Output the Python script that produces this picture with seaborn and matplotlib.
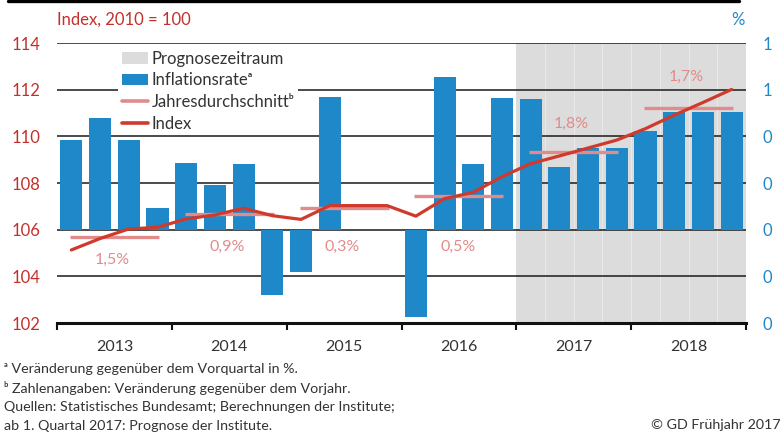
import numpy as np
import pandas as pd
import matplotlib
matplotlib.use("Agg")
import matplotlib.pyplot as plt
from matplotlib.patches import Patch
from matplotlib.lines import Line2D
import seaborn as sns

sns.set_theme(style="white")
plt.rcParams['font.family'] = ['Lato', 'DejaVu Sans']

# ---------------- data ----------------
years = ["2013", "2014", "2015", "2016", "2017", "2018"]
quarters = [f"{y}Q{q}" for y in years for q in range(1, 5)]
# Inflation rate vs. previous quarter (right axis units)
inflation = [0.77, 0.96, 0.77, 0.19,
             0.57, 0.38, 0.56, -0.56,
             -0.36, 1.14, 0.0, 0.0,
             -0.75, 1.31, 0.56, 1.13,
             1.12, 0.54, 0.70, 0.70,
             0.85, 1.01, 1.01, 1.01]
# Price index, 2010 = 100 (left axis)
index_vals = [105.13, 105.62, 106.03, 106.10,
              106.46, 106.63, 106.92, 106.60,
              106.44, 107.03, 107.03, 107.03,
              106.58, 107.33, 107.60, 108.27,
              108.83, 109.16, 109.50, 109.84,
              110.33, 110.91, 111.45, 112.01]
# Annual averages (drawn on index scale) and their labels
annual_level = [105.70, 106.67, 106.91, 107.44, 109.34, 111.20]
annual_label = ["1,5%", "0,9%", "0,3%", "0,5%", "1,8%", "1,7%"]
annual_label_x = [1.44, 5.42, 9.43, 13.46, 17.42, 21.41]
annual_label_y = [104.70, 105.27, 105.27, 105.27, 110.53, 112.56]
left_ticks = [102, 104, 106, 108, 110, 112, 114]
right_ticklabels = ["0", "0", "0", "0", "0", "1", "1"]

# ---------------- colours ----------------
BLUE = "#1f88c9"
RED = "#cf3a2c"
PINK = "#e28b8b"
GRAY = "#dcdcdc"
LRED = "#c3302c"
TXT = "#333333"

fig = plt.figure(figsize=(7.84, 4.34), dpi=100)
ax = fig.add_axes([57/784, 1-323/434, 689/784, 280/434])
ax_idx = ax.twinx()

def to_pct(v):
    return (v - 106) * 0.2

ax.set_ylim(to_pct(102), to_pct(114))
ax_idx.set_ylim(102, 114)
ax.set_xlim(-0.5, 23.5)

# forecast region
ax.axvspan(15.5, 23.5, color=GRAY, lw=0, zorder=0)
for b in np.arange(16.5, 23.5, 1.0):
    ax.axvline(b, color="#e9e9e9", lw=0.8, zorder=0.5)

# grid lines
for t in left_ticks[1:]:
    ax.axhline(to_pct(t), color="#1a1a1a", lw=1.1, zorder=1)

df = pd.DataFrame({"quarter": quarters, "inflation": inflation})
sns.barplot(data=df, x="quarter", y="inflation", ax=ax, color=BLUE,
            saturation=1, width=0.77, zorder=2, linewidth=0)
ax.set_xlim(-0.5, 23.5)

dfi = pd.DataFrame({"x": np.arange(len(index_vals)), "index": index_vals})
# annual averages
for i, lvl in enumerate(annual_level):
    ax_idx.hlines(lvl, 4*i - 0.05, 4*i + 3.05, color=PINK, lw=2.4, zorder=3)
sns.lineplot(data=dfi, x="x", y="index", ax=ax_idx, color=RED, lw=2.3, zorder=4)
for lx, ly, lt in zip(annual_label_x, annual_label_y, annual_label):
    ax_idx.text(lx, ly, lt, color=PINK, fontsize=11.5, ha="center", va="center")

# axes styling
for a in (ax, ax_idx):
    for s in ("top", "left", "right", "bottom"):
        a.spines[s].set_visible(False)
    a.set_xlabel("")
    a.set_ylabel("")
ax.spines["bottom"].set_visible(True)
ax.spines["bottom"].set_color("#111111")
ax.spines["bottom"].set_linewidth(2.2)
ax.spines["bottom"].set_zorder(5)

ax.set_xticks(np.arange(-0.5, 24, 4))
ax.set_xticklabels([])
ax.set_xticks(np.arange(1.5, 24, 4), minor=True)
ax.set_xticklabels(years, minor=True)
ax.tick_params(axis="x", which="major", direction="out", length=5, width=1.5, color="#111111", bottom=True)
ax.tick_params(axis="x", which="minor", length=0, pad=12.5, labelsize=11.5, labelcolor=TXT)

ax.yaxis.tick_right()
ax.set_yticks([to_pct(t) for t in left_ticks])
ax.set_yticklabels(right_ticklabels)
ax.tick_params(axis="y", length=0, pad=12, labelsize=12, labelcolor=BLUE, right=False)

ax_idx.yaxis.tick_left()
ax_idx.set_yticks(left_ticks)
ax_idx.set_yticklabels([str(t) for t in left_ticks])
ax_idx.tick_params(axis="y", length=0, pad=12, labelsize=12, labelcolor=LRED, left=False)
ax_idx.set_xlim(-0.5, 23.5)

# legend
handles = [Patch(facecolor=GRAY, edgecolor="none"),
           Patch(facecolor=BLUE, edgecolor="none"),
           Line2D([], [], color=PINK, lw=2.6),
           Line2D([], [], color=RED, lw=2.6)]
labels = ["Prognosezeitraum", "Inflationsrateᵃ", "Jahresdurchschnittᵇ", "Index"]
leg = ax_idx.legend(handles, labels, loc="upper left", bbox_to_anchor=(0.089, 0.985),
                    frameon=True, facecolor="white", edgecolor="none", framealpha=1,
                    fancybox=False, fontsize=12, handlelength=1.6, handletextpad=0.2,
                    labelspacing=0.34, borderpad=0.2, borderaxespad=0)
for t in leg.get_texts():
    t.set_color(TXT)
leg.set_zorder(10)

# titles / axis units
fig.text(57/784, 1-20/434, "Index, 2010 = 100", color=LRED, fontsize=12, ha="left", va="center")
fig.text(738/784, 1-20/434, "%", color=BLUE, fontsize=12, ha="center", va="center")

# top rule
fig.add_artist(Line2D([8/784, 739/784], [1-1.2/434, 1-1.2/434], color="black", lw=2.4))

# footnotes
foot = ["ᵃ Veränderung gegenüber dem Vorquartal in %.",
        "ᵇ Zahlenangaben: Veränderung gegenüber dem Vorjahr.",
        "Quellen: Statistisches Bundesamt; Berechnungen der Institute;",
        "ab 1. Quartal 2017: Prognose der Institute."]
for i, line in enumerate(foot):
    fig.text(4/784, 1-(369 + i*19)/434, line, color=TXT, fontsize=10.3, ha="left", va="center")
fig.text(781/784, 1-425/434, "© GD Frühjahr 2017", color=TXT, fontsize=10.3, ha="right", va="center")

fig.savefig("out.png", dpi=100)
